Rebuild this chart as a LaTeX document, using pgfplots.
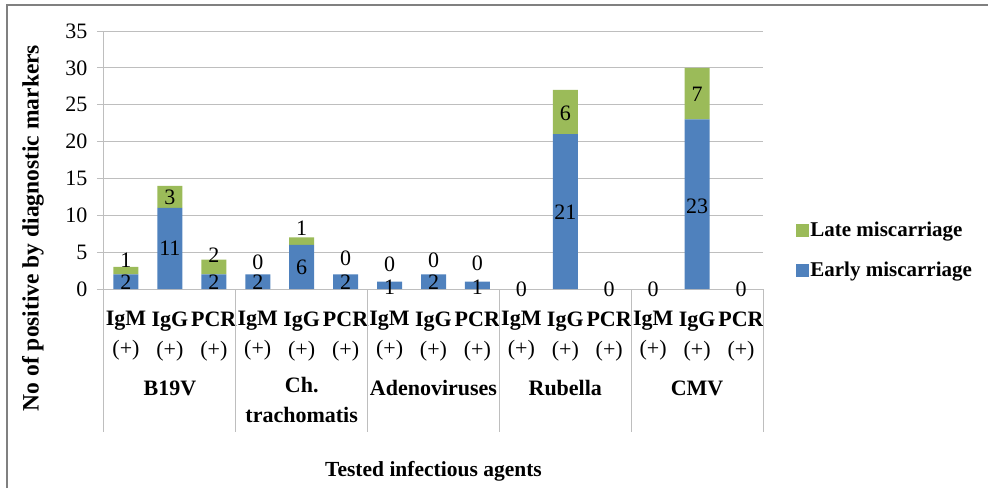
\documentclass[border=0pt]{standalone}
\usepackage{pgfplots}
\pgfplotsset{compat=1.18}
\usepackage{fontspec}
\setmainfont{Liberation Serif}
\definecolor{eblue}{HTML}{4F81BD}
\definecolor{lgreen}{HTML}{9BBB59}
\definecolor{gridc}{HTML}{BEBEBE}
\newcommand{\bigf}{\fontsize{22}{30}\selectfont}
\begin{document}
\begin{tikzpicture}
\path[use as bounding box] (-104pt,-199pt) rectangle (884pt,289pt);
\draw[line width=2pt, color=gray] (-97pt,-199pt) -- (-97pt,284pt) -- (884pt,284pt);
\begin{axis}[
  at={(0,0)}, anchor=south west,
  width=659pt, height=258pt, scale only axis,
  ybar stacked, bar width=25pt,
  xmin=-0.5, xmax=14.5, ymin=0, ymax=35,
  ytick={0,5,...,35},
  xtick={0,...,14},
  xticklabels={{\textbf{IgM}\\(+)},{\textbf{IgG}\\(+)},{\textbf{PCR}\\(+)},
               {\textbf{IgM}\\(+)},{\textbf{IgG}\\(+)},{\textbf{PCR}\\(+)},
               {\textbf{IgM}\\(+)},{\textbf{IgG}\\(+)},{\textbf{PCR}\\(+)},
               {\textbf{IgM}\\(+)},{\textbf{IgG}\\(+)},{\textbf{PCR}\\(+)},
               {\textbf{IgM}\\(+)},{\textbf{IgG}\\(+)},{\textbf{PCR}\\(+)}},
  xticklabel style={align=center, font=\bigf, yshift=-12pt},
  yticklabel style={font=\bigf, xshift=-6pt},
  /pgf/number format/assume math mode=true,
  x axis line style={draw=gridc, line width=1pt},
  y axis line style={draw=gridc, line width=1pt},
  axis x line*=bottom, axis y line*=left,
  x tick style={draw=none},
  y tick style={draw=gridc, line width=1pt},
  tick align=outside, major tick length=7pt,
  ymajorgrids, grid style={draw=gridc, line width=1pt},
  clip=false,
  legend image code/.code={\fill[#1] (0pt,-6.5pt) rectangle (13pt,6.5pt);},
  reverse legend,
  legend style={draw=none, fill=none, at={(1.045,0.151)}, anchor=west,
    font=\fontsize{21}{24}\selectfont\bfseries, row sep=21pt,
    nodes={inner sep=1.5pt}},
  legend cell align=left,
]
\addplot[fill=eblue, draw=none] coordinates {(0,2) (1,11) (2,2) (3,2) (4,6) (5,2) (6,1) (7,2) (8,1) (9,0) (10,21) (11,0) (12,0) (13,23) (14,0)};
\addlegendentry{Early miscarriage}
\addplot[fill=lgreen, draw=none] coordinates {(0,1) (1,3) (2,2) (3,0) (4,1) (5,0) (6,0) (7,0) (8,0) (9,0) (10,6) (11,0) (12,0) (13,7) (14,0)};
\addlegendentry{Late miscarriage}
\foreach \s in {-0.5,2.5,5.5,8.5,11.5,14.5}{
  \edef\tmp{\noexpand\draw[gridc, line width=1pt] (axis cs:\s,0) -- ([yshift=-143pt]axis cs:\s,0);}\tmp
}
\node[font=\bigf\bfseries] at (axis cs:1,0) [yshift=-99pt] {B19V};
\node[font=\bigf\bfseries, align=center] at (axis cs:4,0) [yshift=-111pt] {Ch.\\trachomatis};
\node[font=\bigf\bfseries] at (axis cs:7,0) [yshift=-99pt] {Adenoviruses};
\node[font=\bigf\bfseries] at (axis cs:10,0) [yshift=-99pt] {Rubella};
\node[font=\bigf\bfseries] at (axis cs:13,0) [yshift=-99pt] {CMV};
\end{axis}
\begin{axis}[
  at={(0,0)}, anchor=south west,
  width=659pt, height=258pt, scale only axis,
  xmin=-0.5, xmax=14.5, ymin=0, ymax=35,
  hide axis, clip=false,
  nodes near coords, point meta=explicit symbolic,
  nodes near coords style={anchor=center, font=\bigf, inner sep=0pt},
]
\addplot[draw=none, mark=none] coordinates {
 (0,0.9)[2] (1,5.5)[11] (2,0.9)[2] (3,0.9)[2] (4,3)[6] (5,0.9)[2] (6,0.3)[1] (7,0.9)[2] (8,0.3)[1] (10,10.4)[21] (13,11.2)[23]
 (0,3.9)[1] (1,12.5)[3] (2,4.6)[2] (3,3.6)[0] (4,8.3)[1] (5,4.2)[0] (6,3.4)[0] (7,3.9)[0] (8,3.5)[0]
 (9,0)[0] (10,23.9)[6] (11,0)[0] (12,0)[0] (13,26.4)[7] (14,0)[0]};
\end{axis}
\node[font=\fontsize{21.5}{24}\selectfont\bfseries] at (329.5pt,-182pt) {Tested infectious agents};
\node[font=\fontsize{23.5}{26}\selectfont\bfseries, rotate=90] at (-71pt,61pt) {No of positive by diagnostic markers};
\end{tikzpicture}
\end{document}
